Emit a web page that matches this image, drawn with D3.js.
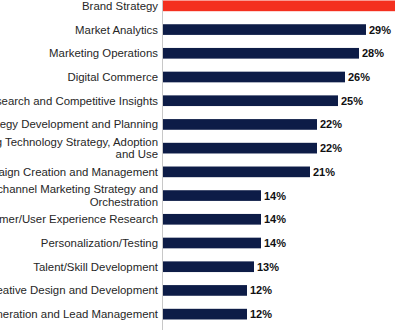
<!DOCTYPE html>
<html>
<head>
<meta charset="utf-8">
<script src="https://cdn.jsdelivr.net/npm/d3@7"></script>
<style>
  html, body { margin: 0; padding: 0; background: #fff; overflow: hidden; }
  svg { display: block; }
</style>
</head>
<body>
<svg id="chart" width="395" height="330"></svg>
<script>
const categories = [
  "Brand Strategy",
  "Market Analytics",
  "Marketing Operations",
  "Digital Commerce",
  "Market Research and Competitive Insights",
  "Strategy Development and Planning",
  "Marketing Technology Strategy, Adoption\nand Use",
  "Campaign Creation and Management",
  "Multichannel Marketing Strategy and\nOrchestration",
  "Customer/User Experience Research",
  "Personalization/Testing",
  "Talent/Skill Development",
  "Creative Design and Development",
  "Demand Generation and Lead Management"
];
const values = [0.36, 0.29, 0.28, 0.26, 0.25, 0.22, 0.22, 0.21, 0.14, 0.14, 0.14, 0.13, 0.12, 0.12];
const highlighted = ["Brand Strategy"];

const W = 395, H = 330;
const x0 = 163;
const svg = d3.select("#chart");

const x = d3.scaleLinear().domain([0, 1]).range([x0, x0 + 700]);
const y = d3.scaleBand().domain(categories).range([-6, 326])
  .paddingInner(0.55).paddingOuter(0.275);

const data = categories.map((c, i) => ({ cat: c, v: values[i] }));

// bars
svg.append("g").selectAll("rect").data(data).join("rect")
  .attr("x", x(0))
  .attr("y", d => y(d.cat))
  .attr("width", d => x(d.v) - x(0))
  .attr("height", y.bandwidth())
  .attr("fill", d => highlighted.includes(d.cat) ? "#f4301f" : "#0d1c47");

// axis line
svg.append("line")
  .attr("x1", x0 - 0.5).attr("x2", x0 - 0.5)
  .attr("y1", 0).attr("y2", H)
  .attr("stroke", "#c8c8c8").attr("stroke-width", 1);

// category labels
const lh = 12.5;
svg.append("g").selectAll("text").data(data).join("text")
  .attr("x", x0 - 5)
  .attr("text-anchor", "end")
  .attr("font-family", "'Liberation Sans', Arial, sans-serif")
  .attr("font-size", 11.4)
  .attr("fill", "#262626")
  .attr("y", d => y(d.cat) + y.bandwidth() / 2)
  .each(function(d) {
    const lines = d.cat.split("\n");
    const t = d3.select(this);
    const off = -(lines.length - 1) * lh / 2;
    lines.forEach((ln, i) => {
      t.append("tspan")
        .attr("x", x0 - 5)
        .attr("dy", i === 0 ? off : lh)
        .attr("dominant-baseline", "central")
        .text(ln);
    });
  });

// value labels
svg.append("g").selectAll("text").data(data).join("text")
  .attr("x", d => x(d.v) + 3)
  .attr("y", d => y(d.cat) + y.bandwidth() / 2)
  .attr("dominant-baseline", "central")
  .attr("font-family", "'Liberation Sans', Arial, sans-serif")
  .attr("font-size", 11)
  .attr("font-weight", "bold")
  .attr("fill", "#111")
  .text(d => d3.format(".0%")(d.v));
</script>
</body>
</html>
